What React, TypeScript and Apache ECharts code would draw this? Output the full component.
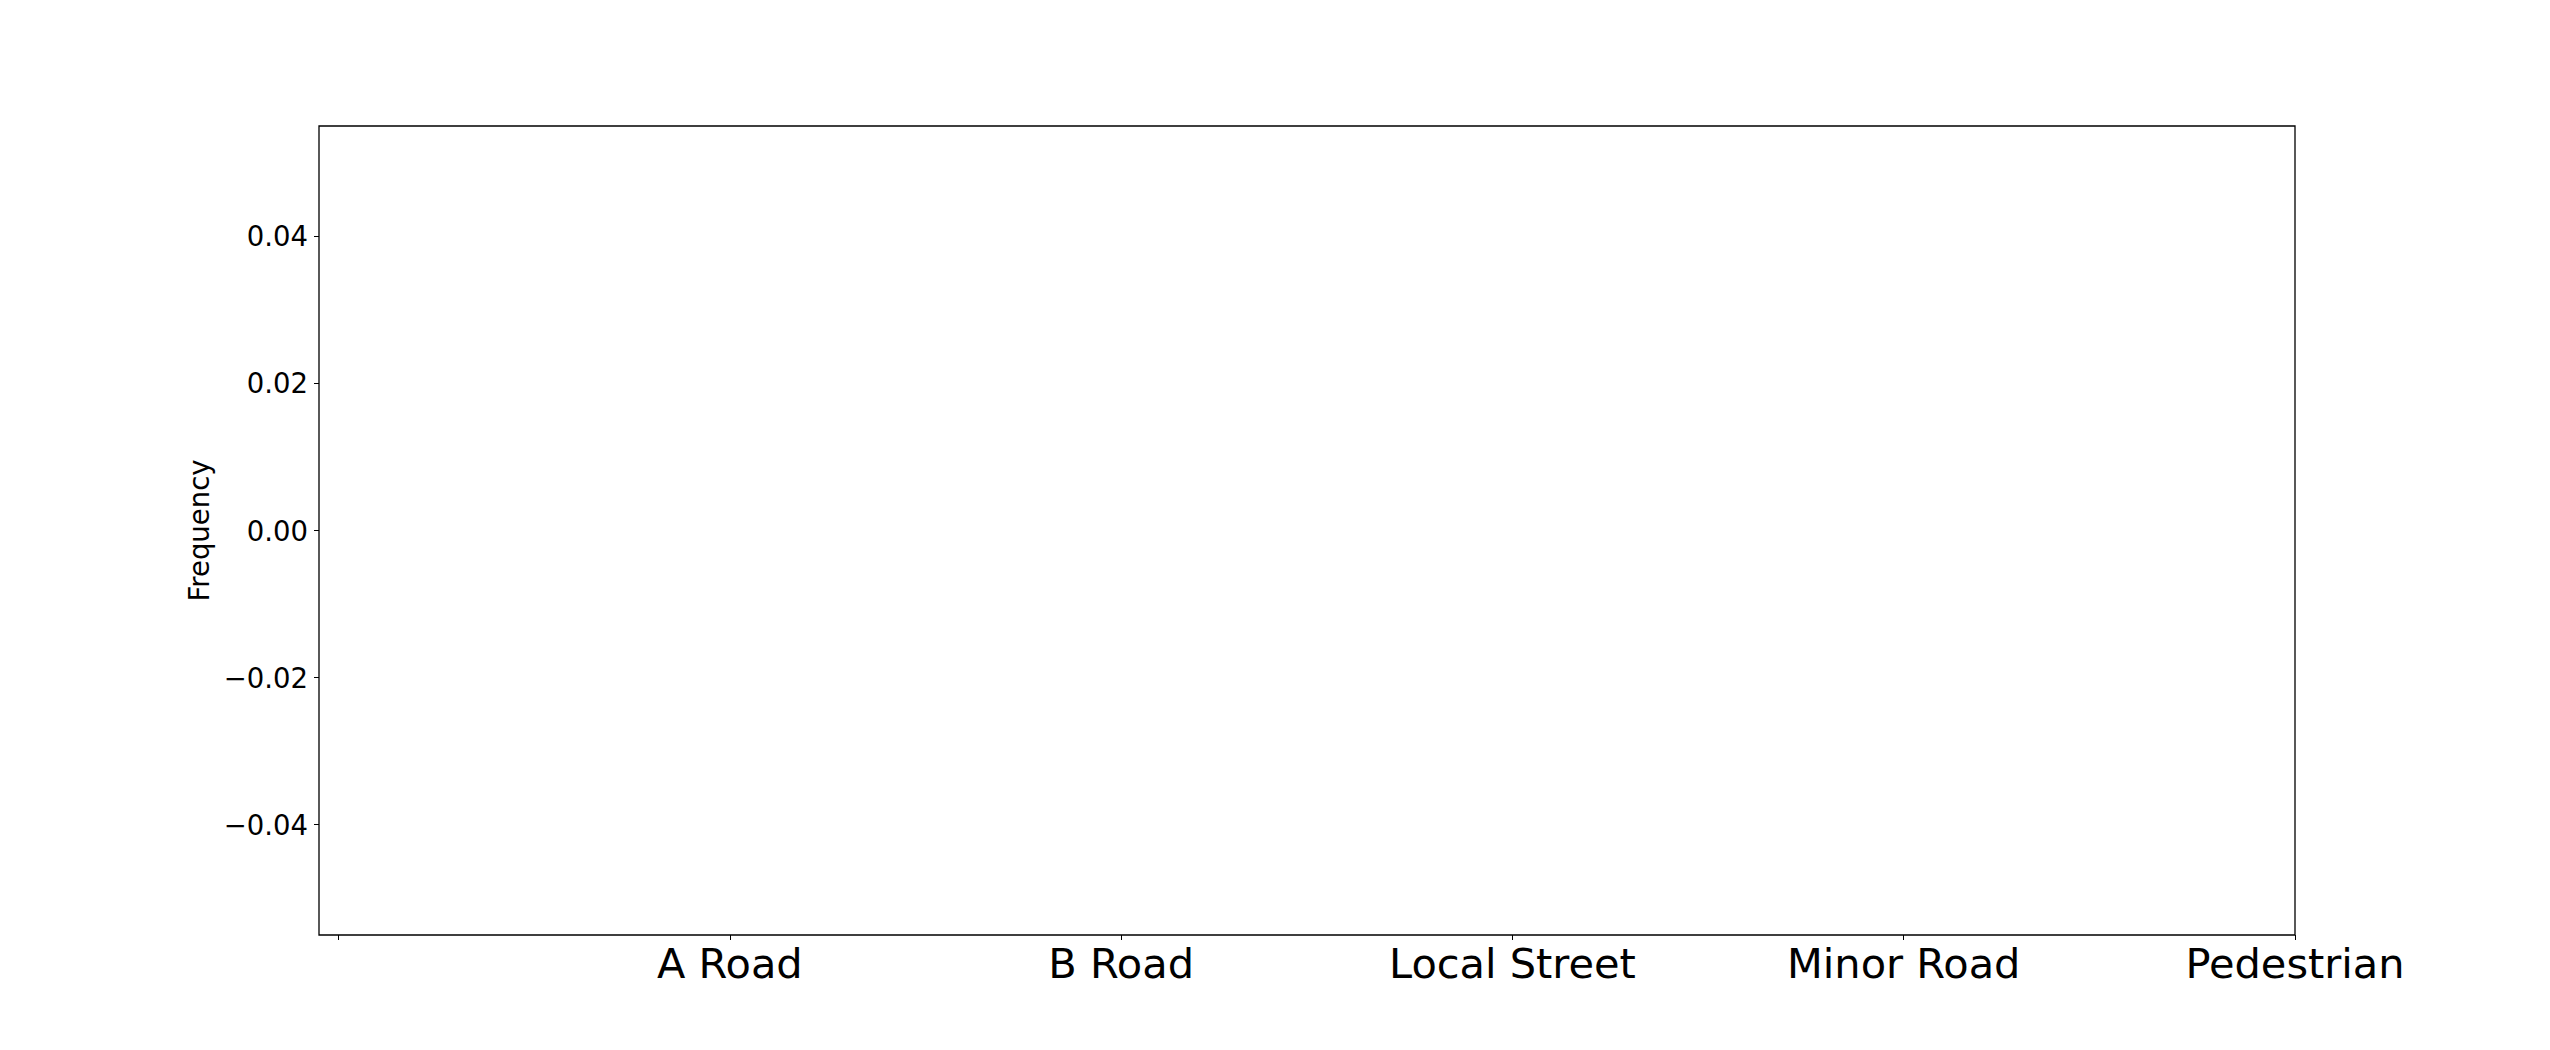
import React, { useEffect, useRef } from "react";
import * as echarts from "echarts";

const categories = ["", "A Road", "B Road", "Local Street", "Minor Road", "Pedestrian"];
const categoryPositions = [0, 1, 2, 3, 4, 5];
const frequencies: [number, number][] = [];
const yTicks = [-0.04, -0.02, 0, 0.02, 0.04];
const xRange = [-0.05, 5];
const yRange = [-0.055, 0.055];

const FONT = "DejaVu Sans";

export default function App() {
  const ref = useRef<HTMLDivElement>(null);
  useEffect(() => {
    document.body.style.margin = "0";
    const chart = echarts.init(ref.current!, null, { renderer: "svg" });
    chart.setOption({
      animation: false,
      backgroundColor: "#ffffff",
      grid: {
        left: 319,
        right: 255,
        top: 126,
        bottom: 115,
        show: true,
        borderColor: "#000",
        borderWidth: 1.3,
        backgroundColor: "transparent",
      },
      xAxis: {
        type: "value",
        min: xRange[0],
        max: xRange[1],
        splitLine: { show: false },
        axisLine: { show: false, onZero: false },
        axisTick: {
          show: true,
          length: 5,
          inside: false,
          customValues: categoryPositions,
          lineStyle: { color: "#000", width: 1 },
        },
        axisLabel: {
          customValues: categoryPositions,
          formatter: (v: number) => categories[Math.round(v)] ?? "",
          color: "#000",
          fontFamily: FONT,
          fontSize: 41.5,
          margin: 7,
        },
      },
      yAxis: {
        type: "value",
        min: yRange[0],
        max: yRange[1],
        name: "Frequency",
        nameLocation: "middle",
        nameRotate: 90,
        nameGap: 97,
        nameTextStyle: { color: "#000", fontFamily: FONT, fontSize: 27.5 },
        splitLine: { show: false },
        axisLine: { show: false, onZero: false },
        axisTick: {
          show: true,
          length: 5,
          inside: false,
          customValues: yTicks,
          lineStyle: { color: "#000", width: 1 },
        },
        axisLabel: {
          customValues: yTicks,
          formatter: (v: number) => (v < -1e-9 ? "\u2212" : "") + Math.abs(v).toFixed(2),
          color: "#000",
          fontFamily: FONT,
          fontSize: 27.5,
          margin: 11,
        },
      },
      series: [
        {
          type: "bar",
          data: frequencies,
          itemStyle: { color: "#1f77b4" },
        },
      ],
    });
    return () => chart.dispose();
  }, []);
  return <div ref={ref} style={{ width: 2550, height: 1050 }} />;
}
